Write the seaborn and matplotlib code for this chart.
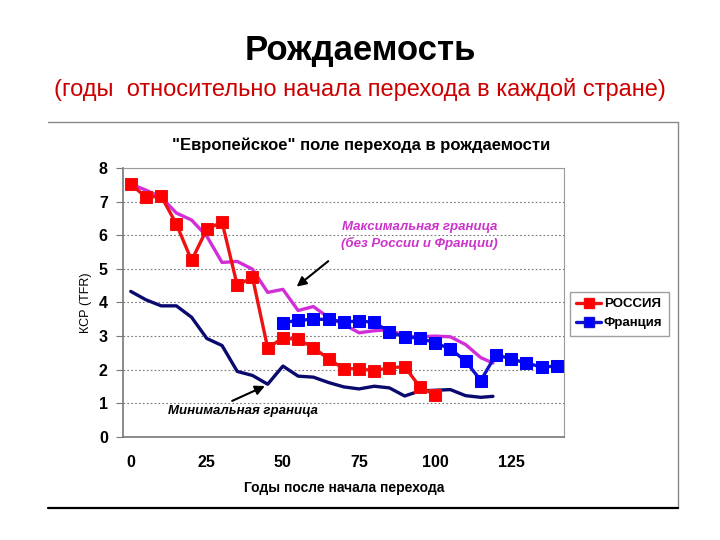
import numpy as np
import seaborn as sns
import matplotlib.pyplot as plt
from matplotlib.lines import Line2D

# years after start of transition
years_rus = [0, 5, 10, 15, 20, 25, 30, 35, 40, 45, 50, 55, 60, 65, 70, 75, 80, 85, 90, 95, 100]
tfr_rus = [7.52, 7.13, 7.16, 6.33, 5.25, 6.18, 6.39, 4.51, 4.75, 2.64, 2.95, 2.9, 2.66, 2.32,
           2.03, 2.03, 1.97, 2.06, 2.09, 1.49, 1.25]

years_fra = [50, 55, 60, 65, 70, 75, 80, 85, 90, 95, 100, 105, 110, 115, 120, 125, 130, 135, 140]
tfr_fra = [3.4, 3.47, 3.5, 3.5, 3.42, 3.45, 3.41, 3.12, 2.98, 2.94, 2.8, 2.62, 2.26, 1.68,
           2.45, 2.32, 2.2, 2.08, 2.11]

years_max = [0, 5, 10, 15, 20, 25, 30, 35, 40, 45, 50, 55, 60, 65, 70, 75, 80, 85, 90, 95,
             100, 105, 110, 115, 119]
tfr_max = [7.52, 7.34, 7.13, 6.66, 6.45, 5.97, 5.19, 5.22, 4.99, 4.3, 4.39, 3.76, 3.88, 3.55,
           3.35, 3.1, 3.16, 3.19, 3.0, 2.98, 3.0, 2.98, 2.75, 2.36, 2.2]

years_min = [0, 5, 10, 15, 20, 25, 30, 35, 40, 45, 50, 55, 60, 65, 70, 75, 80, 85, 90, 95,
             100, 105, 110, 115, 119]
tfr_min = [4.33, 4.08, 3.9, 3.9, 3.56, 2.93, 2.72, 1.95, 1.83, 1.57, 2.11, 1.81, 1.78, 1.62,
           1.49, 1.43, 1.51, 1.46, 1.22, 1.37, 1.39, 1.41, 1.23, 1.18, 1.21]

xtick_labels = [0, 25, 50, 75, 100, 125]

sns.set_style("white")
plt.rcParams['font.family'] = ['Liberation Sans', 'DejaVu Sans']
plt.rcParams['text.color'] = 'black'
plt.rcParams['axes.labelcolor'] = 'black'
plt.rcParams['xtick.labelcolor'] = 'black'
plt.rcParams['ytick.labelcolor'] = 'black'

fig = plt.figure(figsize=(7.2, 5.4), dpi=100)
ax = fig.add_axes([0.171, 0.1907, 0.613, 0.4983])

# boundary lines of the "European" field
sns.lineplot(x=years_max, y=tfr_max, ax=ax, color="#D22ED8", linewidth=2.4, legend=False)
sns.lineplot(x=years_min, y=tfr_min, ax=ax, color="#0A0A6E", linewidth=2.4, legend=False)

# countries
sns.lineplot(x=years_rus, y=tfr_rus, ax=ax, color="#EE1111", linewidth=2.4,
             marker="s", markersize=8, markeredgecolor="#EE1111", markerfacecolor="#FF0000",
             legend=False)
sns.lineplot(x=years_fra, y=tfr_fra, ax=ax, color="#1111CC", linewidth=2.4,
             marker="s", markersize=8, markeredgecolor="#0000FF", markerfacecolor="#0000FF",
             legend=False)

ax.set_xlim(-2.5, 142.5)
ax.set_ylim(0, 8)
ax.set_yticks(range(0, 9))
ax.set_xticks(xtick_labels)
ax.set_xticks(np.arange(-2.5, 140, 10), minor=True)
ax.tick_params(axis='x', which='major', length=0, pad=13, labelsize=11.5)
ax.tick_params(axis='x', which='minor', length=5, direction='out', color='#777777', width=1)
ax.tick_params(axis='y', which='major', length=5, direction='out', color='#777777', pad=6,
               labelsize=11.5, left=True)
for lab in ax.get_xticklabels() + ax.get_yticklabels():
    lab.set_fontweight('bold')

ax.grid(axis='y', linestyle=(0, (1.5, 2)), color='#777777', linewidth=0.8)
for side in ['top', 'right']:
    ax.spines[side].set_color('#999999')
for side in ['left', 'bottom']:
    ax.spines[side].set_color('#777777')
    ax.spines[side].set_linewidth(1.2)

ax.set_xlabel("Годы после начала перехода", fontsize=10, fontweight='bold', labelpad=8)
ax.set_ylabel("КСР (TFR)", fontsize=9, labelpad=5)

# chart title, centred in the chart frame
fig.text(0.502, 0.731, '"Европейское" поле перехода в рождаемости', fontsize=12,
         fontweight='bold', ha='center', va='center')

# annotations
ax.text(94.8, 6.0, "Максимальная граница\n(без России и Франции)", color="#CC33CC",
        fontsize=9.5, fontweight='bold', fontstyle='italic', ha='center', va='center',
        linespacing=1.4)
ax.annotate("", xy=(53.8, 4.42), xytext=(65.6, 5.28),
            arrowprops=dict(arrowstyle='-|>', color='black', lw=1.5, mutation_scale=14))
ax.text(37, 0.78, "Минимальная граница", color="black", fontsize=9.5, fontweight='bold',
        fontstyle='italic', ha='center', va='center')
ax.annotate("", xy=(44.9, 1.55), xytext=(32.5, 1.04),
            arrowprops=dict(arrowstyle='-|>', color='black', lw=1.5, mutation_scale=14))

# legend outside plot area
handles = [Line2D([], [], color="#EE1111", lw=2.4, marker='s', markersize=7, markerfacecolor='#FF0000'),
           Line2D([], [], color="#1111CC", lw=2.4, marker='s', markersize=7, markerfacecolor='#0000FF')]
leg = fig.legend(handles, ["РОССИЯ", "Франция"], loc='center left', bbox_to_anchor=(0.791, 0.419),
                 frameon=True, fancybox=False, edgecolor='#888888', handlelength=1.9,
                 handletextpad=0.2, borderpad=0.5, borderaxespad=0, labelspacing=0.5,
                 prop={'weight': 'bold', 'size': 9.5})
leg.get_frame().set_linewidth(1.0)

# slide frame around the chart
fig.add_artist(Line2D([0.067, 0.942], [0.774, 0.774], color='#888888', lw=1.0))
fig.add_artist(Line2D([0.942, 0.942], [0.774, 0.059], color='#888888', lw=1.0))
fig.add_artist(Line2D([0.067, 0.942], [0.059, 0.059], color='black', lw=1.6))

# slide title
fig.text(0.5, 0.907, "Рождаемость", ha='center', va='center', fontsize=25, fontweight='bold')
fig.text(0.5, 0.835, "(годы  относительно начала перехода в каждой стране)", ha='center',
         va='center', fontsize=17, color='#CC0000')

fig.savefig("out.png", dpi=100)
